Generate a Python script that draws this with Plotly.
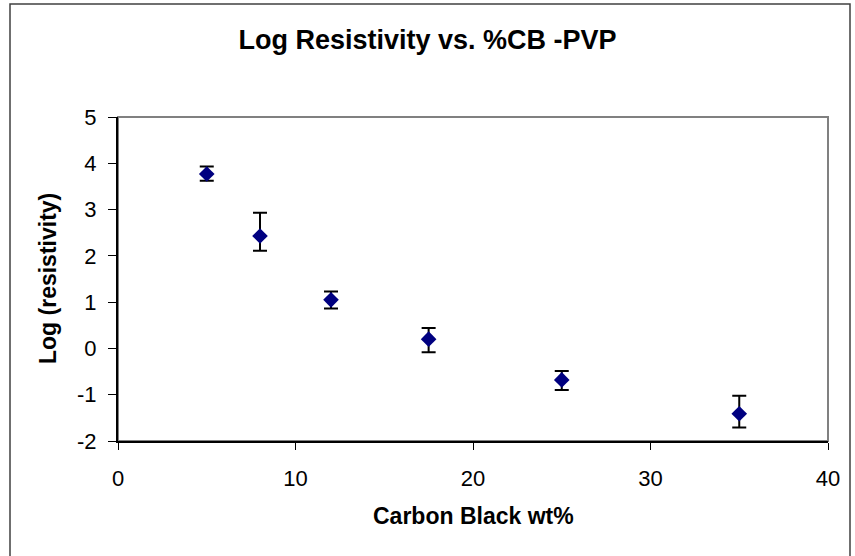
import plotly.graph_objects as go

# Data
cb_wt = [5, 8, 12, 17.5, 25, 35]
log_res = [3.77, 2.43, 1.05, 0.20, -0.68, -1.41]
err_plus = [0.16, 0.50, 0.18, 0.24, 0.19, 0.39]
err_minus = [0.15, 0.32, 0.19, 0.28, 0.22, 0.30]

x_tickvals = [0, 10, 20, 30, 40]
x_ticktext = ["0", "10", "20", "30", "40"]
y_tickvals = [-2, -1, 0, 1, 2, 3, 4, 5]
y_ticktext = ["-2", "-1", "0", "1", "2", "3", "4", "5"]

W, H = 855, 556
L, R, T, B = 118, 27, 117, 115
PW, PH = W - L - R, H - T - B

def px_x(p):
    return (p - L) / PW

def px_y(p):
    return (H - B - p) / PH

FONT = "Liberation Sans, Arial, sans-serif"

fig = go.Figure()
fig.add_trace(go.Scatter(
    x=cb_wt, y=log_res, mode="markers",
    marker=dict(symbol="diamond", size=12, color="#000080", line=dict(width=0)),
    error_y=dict(type="data", symmetric=False, array=err_plus, arrayminus=err_minus,
                 color="black", thickness=2, width=7),
    showlegend=False,
))

fig.update_layout(
    width=W, height=H,
    margin=dict(l=L, r=R, t=T, b=B),
    paper_bgcolor="white", plot_bgcolor="white",
    font=dict(family=FONT, color="black"),
    title=dict(text="<b>Log Resistivity vs. %CB -PVP</b>", font=dict(size=27, family=FONT, color="black"),
               x=0.5, xanchor="center", xref="container",
               y=1 - 40 / H, yanchor="middle", yref="container"),
    xaxis=dict(range=[0, 40], tickmode="array", tickvals=x_tickvals, ticktext=x_ticktext,
               showgrid=False, zeroline=False,
               showline=True, linecolor="black", linewidth=2,
               ticks="outside", ticklen=7, tickwidth=1, tickcolor="black",
               ticklabelstandoff=10,
               tickfont=dict(size=22, family=FONT, color="black")),
    yaxis=dict(range=[-2, 5], tickmode="array", tickvals=y_tickvals, ticktext=y_ticktext,
               showgrid=False, zeroline=False,
               showline=True, linecolor="black", linewidth=2,
               ticks="outside", ticklen=8, tickwidth=1, tickcolor="black",
               ticklabelstandoff=7,
               tickfont=dict(size=22, family=FONT, color="black")),
    shapes=[
        # plot area frame (gray top/right)
        dict(type="rect", xref="paper", yref="paper", x0=0, x1=1, y0=0, y1=1,
             line=dict(color="#808080", width=2), layer="below"),
        # outer chart border
        dict(type="rect", xref="paper", yref="paper",
             x0=px_x(10), x1=px_x(850), y0=px_y(562), y1=px_y(4),
             line=dict(color="#404040", width=1.5), layer="below"),
    ],
    annotations=[
        dict(text="<b>Carbon Black wt%</b>", xref="paper", yref="paper",
             x=0.5, y=px_y(516), xanchor="center", yanchor="middle", showarrow=False,
             font=dict(size=23, family=FONT, color="black")),
        dict(text="<b>Log (resistivity)</b>", xref="paper", yref="paper",
             x=px_x(48), y=0.5, xanchor="center", yanchor="middle", showarrow=False,
             textangle=-90, font=dict(size=23, family=FONT, color="black")),
    ],
)

fig.write_html("out.html", config={"displayModeBar": False},
               post_script="document.body.style.margin='0';")
